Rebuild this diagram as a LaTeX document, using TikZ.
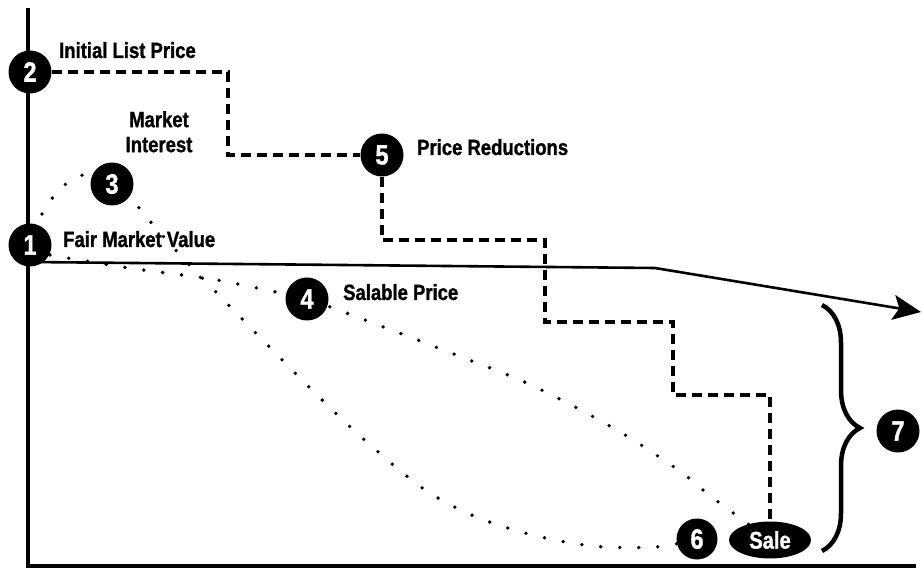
\documentclass[tikz,border=0pt]{standalone}
\usepackage{fontspec}
\setmainfont{Liberation Sans}[FakeStretch=0.84, BoldFeatures={FakeBold=1.2}]
\usetikzlibrary{arrows.meta,shapes.geometric,decorations.pathreplacing,backgrounds}

\tikzset{
	stepnum/.style={circle, fill=black, text=white, inner sep=0pt, minimum size=43pt,
		font=\bfseries\fontsize{28}{28}\selectfont},
	lbl/.style={inner sep=0pt, font=\bfseries\fontsize{22}{25}\selectfont},
	axis/.style={line width=4pt},
	fmvline/.style={line width=2.6pt},
	listline/.style={line width=4pt, dash pattern=on 10pt off 6pt},
	interest/.style={line width=3.8pt, line cap=round, dash pattern=on 0pt off 19pt},
}

\begin{document}
\begin{tikzpicture}[x=1pt, y=-1pt]
	\useasboundingbox (0,0) rectangle (922,572);

	% оси
	\coordinate (top) at (28,8);
	\coordinate (corner) at (28,566);
	\coordinate (right) at (916,566);
	\draw [axis] (top) -- (corner) -- (right);

	% точки
	\node [stepnum] (n2) at (30,72) {2};
	\node [stepnum] (n1) at (30,245) {1};
	\node [stepnum] (n3) at (112,184) {3};
	\node [stepnum] (n4) at (307,299) {4};
	\node [stepnum] (n5) at (382,155) {5};
	\node [stepnum, minimum size=41pt] (n6) at (697,539) {6};
	\node [stepnum] (n7) at (898,431) {7};
	\node [ellipse, fill=black, text=white, inner sep=0pt, minimum width=82pt, minimum height=37pt,
		font=\bfseries\fontsize{24}{24}\selectfont] (sale) at (770,540) {Sale};

	% подписи
	\node [lbl, anchor=base west] (list) at (59,58) {Initial List Price};
	\node [lbl, anchor=north, align=center] (interestlbl) at (159,111) {Market\\Interest};
	\node [lbl, anchor=base west] (fmv) at (63,247) {Fair Market Value};
	\node [lbl, anchor=base west] (reduct) at (417,155) {Price Reductions};
	\node [lbl, anchor=base west] (salable) at (343,300) {Salable Price};

	\begin{pgfonlayer}{background}
		% рыночная стоимость
		\coordinate (fmvstart) at (30,262);
		\coordinate (fmvbend) at (655,268);
		\coordinate (fmvend) at (921,312);
		\draw [fmvline, -{Stealth[length=28pt, width=25pt, inset=6pt]}] (fmvstart) -- (fmvbend) -- (fmvend);

		% интерес рынка
		\draw [interest] plot [smooth, tension=0.55] coordinates {(42,214) (58,191) (80,176) (112,172) (143,213)
			(183,258) (213,289) (299,377) (358,434) (421,487) (474,516) (533,535) (593,546) (655,547) (n6)};

		% продажная цена
		\draw [interest] plot [smooth, tension=0.55] coordinates {(50,255) (129,268) (211,279) (271,291) (n4)
			(349,314) (407,336) (464,358) (520,380) (577,408) (630,438) (681,472) (713,498) (sale)};
	\end{pgfonlayer}

	% снижение цены
	\draw [listline] (n2) -- (228,72) |- (n5);
	\draw [listline] (n5) |- (545,240) |- (673,322) |- (770,395) -- (sale);

	% скобка
	\coordinate (bracetop) at (822,305);
	\coordinate (bracebot) at (822,551);
	\draw [line width=4.5pt, decorate, decoration={brace, amplitude=38pt}] (bracetop) -- (bracebot);
\end{tikzpicture}
\end{document}
